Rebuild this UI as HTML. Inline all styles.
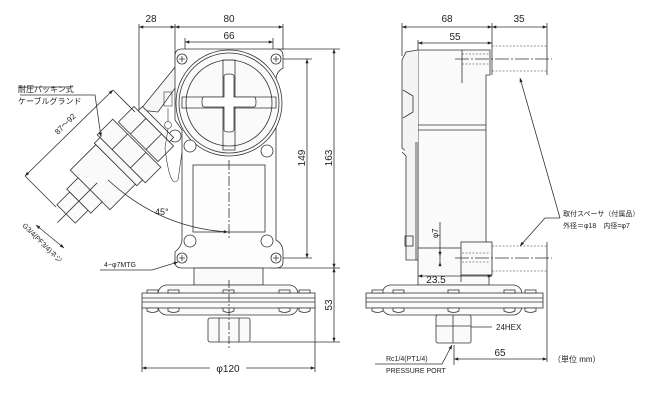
<!DOCTYPE html>
<html><head><meta charset="utf-8"><style>
html,body{margin:0;padding:0;background:#fff}
svg{display:block}
text{font-family:"Liberation Sans","Noto Sans CJK JP",sans-serif;fill:#222}
</style></head><body>
<svg width="648" height="403" viewBox="0 0 648 403" xmlns="http://www.w3.org/2000/svg">
<defs>
<marker id="a" viewBox="0 0 8 6" refX="8" refY="3" markerWidth="6" markerHeight="4" orient="auto-start-reverse"><path d="M0,0L8,3L0,6z" fill="#222"/></marker>
</defs>
<g stroke="#333" stroke-width="0.8" fill="none">
<line x1="139" y1="24" x2="139" y2="112"/>
<line x1="175" y1="24" x2="175" y2="60"/>
<line x1="283" y1="24" x2="283" y2="50"/>
<line x1="139" y1="27" x2="175" y2="27" marker-start="url(#a)" marker-end="url(#a)"/>
<line x1="175" y1="27" x2="283" y2="27" marker-start="url(#a)" marker-end="url(#a)"/>
<line x1="185" y1="38" x2="185" y2="56"/>
<line x1="273" y1="38" x2="273" y2="56"/>
<line x1="185" y1="42" x2="273" y2="42" marker-start="url(#a)" marker-end="url(#a)"/>
<line x1="276" y1="49" x2="340" y2="49"/>
<line x1="276" y1="59" x2="312" y2="59"/>
<line x1="276" y1="258" x2="312" y2="258"/>
<line x1="307" y1="59" x2="307" y2="258" marker-start="url(#a)" marker-end="url(#a)"/>
<line x1="334" y1="49" x2="334" y2="268" marker-start="url(#a)" marker-end="url(#a)"/>
<line x1="270" y1="268" x2="340" y2="268"/>
<line x1="334" y1="268" x2="334" y2="342" marker-start="url(#a)" marker-end="url(#a)"/>
<line x1="250" y1="342" x2="340" y2="342"/>
<line x1="142" y1="305" x2="142" y2="372"/>
<line x1="315" y1="305" x2="315" y2="372"/>
<line x1="142" y1="368" x2="210" y2="368" marker-start="url(#a)"/>
<line x1="246" y1="368" x2="315" y2="368" marker-end="url(#a)"/>
<!-- angled boss -->
<path d="M176,66 L188,70 L158,112 L140,110 Z" fill="#f6f6f6"/>
<!-- body -->
<path d="M175,56 Q175,49 182,49 L276,49 Q283,49 283,56 L283,68 Q276,72 276,80 L276,240 Q283,244 283,252 L283,262 Q283,268 276,268 L182,268 Q175,268 175,262 L175,252 Q182,246 182,240 L182,130 L175,120 L175,72 Z" fill="#fdfdfd"/>
<circle cx="229" cy="103" r="53" fill="#fafafa"/>
<circle cx="229" cy="103" r="50"/>
<circle cx="229" cy="103" r="43"/>
<path d="M182,97 L276,97 L276,108 L182,108 Z"/>
<path d="M223,60 L235,60 L235,150 L223,150 Z"/>
<path d="M224,76 Q224,74 229,74 Q234,74 234,76 L234,97 L254,97 Q256,97 256,102 Q256,107 254,107 L234,107 L234,130 Q234,132 229,132 Q224,132 224,130 L224,107 L204,107 Q202,107 202,102 Q202,97 204,97 L224,97 Z" fill="#fff"/>
<rect x="193" y="165" width="72" height="67"/>
<line x1="229" y1="160" x2="229" y2="240" stroke-dasharray="10,2,2,2"/>
<g fill="#fff"><circle cx="182" cy="59" r="5"/><circle cx="276" cy="59" r="5"/><circle cx="182" cy="258" r="5"/><circle cx="276" cy="258" r="5"/>
<circle cx="190" cy="146" r="6"/><circle cx="267" cy="151" r="6"/><circle cx="190" cy="241" r="6"/><circle cx="267" cy="241" r="6"/><circle cx="175" cy="136" r="6"/></g>
<path d="M179,59h6M182,56v6M273,59h6M276,56v6M179,258h6M182,255v6M273,258h6M276,255v6"/>
<rect x="194" y="268" width="69" height="17" fill="#fafafa"/>
<rect x="158" y="285" width="140" height="30" rx="9" fill="#fafafa"/>
<rect x="142" y="293" width="173" height="15" fill="#fafafa"/>
<line x1="142" y1="298" x2="315" y2="298"/><line x1="142" y1="302" x2="315" y2="302"/>
<g fill="#fff"><rect x="147" y="290" width="11" height="3"/><rect x="168" y="290" width="11" height="3"/><rect x="223" y="290" width="11" height="3"/><rect x="279" y="290" width="11" height="3"/><rect x="299" y="290" width="11" height="3"/>
<path d="M147,308h11v3q-5.5,3 -11,0z"/><path d="M168,308h11v3q-5.5,3 -11,0z"/><path d="M223,308h11v3q-5.5,3 -11,0z"/><path d="M279,308h11v3q-5.5,3 -11,0z"/><path d="M299,308h11v3q-5.5,3 -11,0z"/></g>
<rect x="208" y="318" width="42" height="24" rx="2" fill="#fafafa"/>
<line x1="219" y1="318" x2="219" y2="342"/><line x1="239" y1="318" x2="239" y2="342"/>
<line x1="229" y1="280" x2="229" y2="350" stroke-dasharray="8,2,2,2"/>
<!-- gland -->
<g transform="translate(158,122) rotate(135)" fill="#fafafa">
<rect x="0" y="-22" width="6" height="44"/>
<rect x="6" y="-28" width="22" height="56"/>
<line x1="6" y1="-11" x2="28" y2="-11"/><line x1="6" y1="11" x2="28" y2="11"/>
<rect x="30" y="-34" width="22" height="68"/>
<line x1="30" y1="-13" x2="52" y2="-13"/><line x1="30" y1="13" x2="52" y2="13"/>
<rect x="52" y="-30" width="8" height="60"/>
<rect x="60" y="-28" width="36" height="56"/>
<rect x="96" y="-17" width="16" height="34"/>
<rect x="112" y="-13" width="18" height="26"/>
<line x1="86" y1="0" x2="142" y2="0"/>
</g>
<g stroke-width="0.6">
<rect x="164" y="92" width="8" height="14"/><circle cx="168" cy="125" r="3.5"/>
<path d="M168,108v14M168,129 L165,148 Q170,190 178,180 L182,152"/>
</g>
<path d="M108,180 Q160,228 228,232" marker-end="url(#a)"/>
<path d="M20,95 L95,95 L101,137" marker-end="url(#a)"/>
<path d="M18,87 L72,87"/>
<line x1="113" y1="90" x2="25" y2="176" marker-start="url(#a)" marker-end="url(#a)"/>
<line x1="113" y1="90" x2="135" y2="112"/>
<line x1="25" y1="176" x2="56" y2="207"/>
<line x1="36" y1="225" x2="64" y2="248" marker-start="url(#a)" marker-end="url(#a)"/>
<path d="M100,270 L152,270 L178,262" marker-end="url(#a)"/>

<!-- RIGHT VIEW -->
<line x1="402" y1="23" x2="402" y2="56"/>
<line x1="492" y1="23" x2="492" y2="75"/>
<line x1="547" y1="23" x2="547" y2="75"/>
<line x1="402" y1="27" x2="492" y2="27" marker-start="url(#a)" marker-end="url(#a)"/>
<line x1="492" y1="27" x2="547" y2="27" marker-start="url(#a)" marker-end="url(#a)"/>
<line x1="418" y1="40" x2="418" y2="50"/>
<line x1="418" y1="43" x2="492" y2="43" marker-start="url(#a)" marker-end="url(#a)"/>
<path d="M418,50 L490,50 L490,75 L486,75 L486,260 L418,260 Z" fill="#fafafa"/>
<line x1="418" y1="125" x2="486" y2="125"/><line x1="418" y1="130" x2="486" y2="130"/>
<path d="M418,50 L406,52 L402,60 L402,148 L407,152 L418,152" fill="#f4f4f4"/>
<path d="M403,90 L413,96 L413,112 L403,118"/>
<path d="M402,152 L406,156 L406,260 L418,260 L418,142" fill="#f4f4f4"/>
<line x1="416" y1="142" x2="416" y2="260"/>
<rect x="405" y="236" width="8" height="10"/>
<rect x="418" y="248" width="71" height="37" fill="#fafafa"/>
<rect x="461" y="242" width="31" height="33" fill="#fafafa"/>
<g stroke-dasharray="2,1.5" stroke-width="0.6">
<line x1="492" y1="46" x2="547" y2="46"/><line x1="492" y1="71" x2="547" y2="71"/>
<line x1="462" y1="54" x2="490" y2="54"/><line x1="462" y1="64" x2="490" y2="64"/>
<line x1="492" y1="246" x2="547" y2="246"/><line x1="492" y1="271" x2="547" y2="271"/>
<line x1="462" y1="253" x2="490" y2="253"/><line x1="462" y1="262" x2="490" y2="262"/>
</g>
<line x1="455" y1="59" x2="552" y2="59" stroke-dasharray="14,2,2,2"/>
<line x1="462" y1="50" x2="462" y2="83"/>
<line x1="455" y1="258" x2="552" y2="258" stroke-dasharray="14,2,2,2"/>
<line x1="547" y1="242" x2="547" y2="362"/>
<line x1="440" y1="222" x2="440" y2="262"/>
<line x1="440" y1="253" x2="440" y2="256" marker-end="url(#a)"/>
<line x1="440" y1="266" x2="440" y2="262" marker-end="url(#a)"/>
<line x1="418" y1="276" x2="492" y2="276" marker-start="url(#a)" marker-end="url(#a)"/>
<line x1="461" y1="275" x2="461" y2="282"/>
<rect x="382" y="285" width="140" height="30" rx="9" fill="#fafafa"/>
<rect x="366" y="293" width="177" height="15" fill="#fafafa"/>
<line x1="366" y1="298" x2="543" y2="298"/><line x1="366" y1="302" x2="543" y2="302"/>
<g fill="#fff"><rect x="372" y="290" width="11" height="3"/><rect x="393" y="290" width="11" height="3"/><rect x="448" y="290" width="11" height="3"/><rect x="504" y="290" width="11" height="3"/><rect x="525" y="290" width="11" height="3"/>
<path d="M372,308h11v3q-5.5,3 -11,0z"/><path d="M393,308h11v3q-5.5,3 -11,0z"/><path d="M448,308h11v3q-5.5,3 -11,0z"/><path d="M504,308h11v3q-5.5,3 -11,0z"/><path d="M525,308h11v3q-5.5,3 -11,0z"/></g>
<rect x="436" y="315" width="35" height="28" rx="2" fill="#fafafa"/>
<line x1="453" y1="315" x2="453" y2="343"/><line x1="436" y1="326" x2="471" y2="326"/>
<line x1="471" y1="327" x2="492" y2="327"/>
<line x1="454" y1="345" x2="454" y2="365"/>
<line x1="454" y1="359" x2="547" y2="359" marker-start="url(#a)" marker-end="url(#a)"/>
<path d="M375,364 L442,364 L452,345" marker-end="url(#a)"/>
<path d="M560,218 L545,218 L520,246" marker-end="url(#a)"/>
<path d="M560,218 L520,78" marker-end="url(#a)"/>
</g>
<g font-size="10">
<text x="151" y="22" text-anchor="middle">28</text>
<text x="229" y="22" text-anchor="middle">80</text>
<text x="229" y="39" text-anchor="middle">66</text>
<text transform="translate(305,158) rotate(-90)" text-anchor="middle">149</text>
<text transform="translate(332,158) rotate(-90)" text-anchor="middle">163</text>
<text transform="translate(332,305) rotate(-90)" text-anchor="middle">53</text>
<text x="228" y="372" text-anchor="middle">φ120</text>
<text x="155" y="215" font-size="9">45°</text>
<text x="18" y="92" font-size="8">耐圧パッキン式</text>
<text x="18" y="104" font-size="8">ケーブルグランド</text>
<text transform="translate(58,135) rotate(-45)" font-size="8">87〜92</text>
<text transform="translate(22,226) rotate(45)" font-size="7">G3/4(PF3/4)ネジ</text>
<text x="104" y="267" font-size="7">4−φ7MTG</text>
<text x="447" y="22" text-anchor="middle">68</text>
<text x="519" y="22" text-anchor="middle">35</text>
<text x="455" y="40" text-anchor="middle">55</text>
<text transform="translate(438,238) rotate(-90)" font-size="8">φ7</text>
<text x="436" y="283" text-anchor="middle">23.5</text>
<text x="496" y="330" font-size="8">24HEX</text>
<text x="500" y="356" text-anchor="middle">65</text>
<text x="553" y="362" font-size="8">（単位 mm）</text>
<text x="386" y="361" font-size="7">Rc1/4(PT1/4)</text>
<text x="386" y="373" font-size="7">PRESSURE PORT</text>
<text x="563" y="216" font-size="7">取付スペーサ（付属品）</text>
<text x="563" y="228" font-size="7">外径＝φ18　内径=φ7</text>
</g>
</svg>
</body></html>
